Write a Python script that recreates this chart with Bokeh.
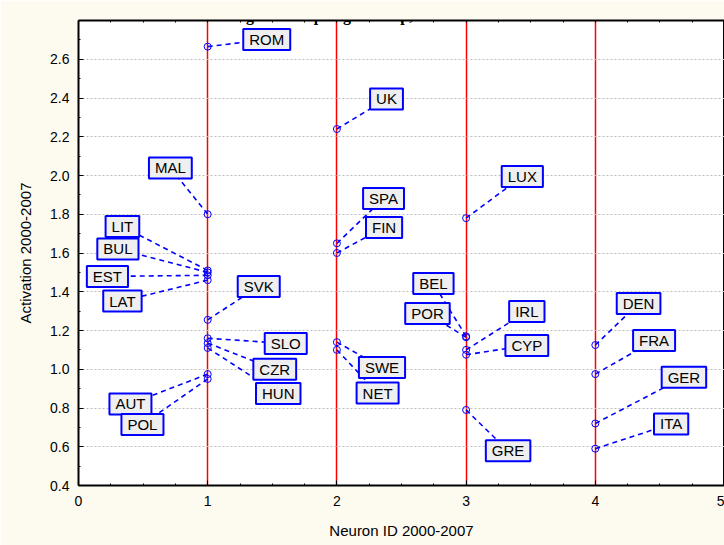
from bokeh.plotting import figure
from bokeh.models import (ColumnDataSource, LinearAxis, SingleIntervalTicker, FixedTicker,
                          Range1d, NumeralTickFormatter, Label)
from bokeh.embed import file_html
from bokeh.resources import INLINE
from bokeh.core.properties import value

# ---- data ----
countries = ["ROM", "MAL", "LIT", "BUL", "EST", "LAT", "SVK", "SLO", "CZR", "HUN", "AUT", "POL",
             "UK", "SPA", "FIN", "SWE", "NET",
             "LUX", "BEL", "POR", "IRL", "CYP", "GRE",
             "DEN", "FRA", "GER", "ITA"]
neuron = [1, 1, 1, 1, 1, 1, 1, 1, 1, 1, 1, 1,
          2, 2, 2, 2, 2,
          3, 3, 3, 3, 3, 3,
          4, 4, 4, 4]
activation = [2.665, 1.80, 1.51, 1.50, 1.485, 1.46, 1.255, 1.16, 1.135, 1.11, 0.975, 0.95,
              2.24, 1.65, 1.60, 1.14, 1.10,
              1.78, 1.17, 1.165, 1.10, 1.075, 0.79,
              1.125, 0.975, 0.72, 0.59]
# label anchor (box centre) in data coordinates
label_x = [1.457, 0.711, 0.340, 0.305, 0.224, 0.340, 1.395, 1.604, 1.519, 1.546, 0.402, 0.495,
           2.384, 2.361, 2.365, 2.349, 2.315,
           3.435, 2.747, 2.701, 3.470, 3.470, 3.325,
           4.335, 4.455, 4.686, 4.587]
label_y = [2.702, 2.039, 1.737, 1.621, 1.479, 1.352, 1.427, 1.133, 1.000, 0.875, 0.821, 0.715,
           2.395, 1.881, 1.732, 1.009, 0.877,
           1.995, 1.443, 1.288, 1.298, 1.123, 0.579,
           1.339, 1.148, 0.959, 0.718]
top_minor_ticks = [i * 0.25 for i in range(21)]

title_text = "Figure 4. Topological map, 2000-2007"
x_title = "Neuron ID 2000-2007"
y_title = "Activation 2000-2007"

CREAM = "#FDFAF0"
BLUE = "#0000FF"
FONT = "Liberation Sans"

p = figure(width=724, height=545, output_backend="svg", toolbar_location=None,
           x_range=Range1d(0, 5), y_range=Range1d(0.4, 2.8),
           x_axis_location=None, y_axis_location=None,
           min_border_left=78, min_border_right=0, min_border_top=20, min_border_bottom=60,
           background_fill_color="white", border_fill_color=CREAM,
           outline_line_color="black", outline_line_width=1)

xt = SingleIntervalTicker(interval=1, num_minor_ticks=4)
yt = SingleIntervalTicker(interval=0.2, num_minor_ticks=2)

bottom = LinearAxis(ticker=xt, axis_label=x_title)
left = LinearAxis(ticker=yt, axis_label=y_title, formatter=NumeralTickFormatter(format="0.0"))
top = LinearAxis(ticker=FixedTicker(ticks=[], minor_ticks=top_minor_ticks))

for ax in [bottom, left, top]:
    ax.axis_line_color = "black"
    ax.axis_line_width = 2
    ax.major_tick_in = 5
    ax.major_tick_out = 0
    ax.minor_tick_in = 2
    ax.minor_tick_out = 0
    ax.major_tick_line_color = "black"
    ax.minor_tick_line_color = "black"
    ax.major_label_text_font = FONT
    ax.major_label_text_color = "black"
    ax.axis_label_text_font = FONT
    ax.axis_label_text_font_style = "normal"
    ax.axis_label_text_color = "black"

for ax in [bottom, left]:
    ax.major_label_text_font_size = "14px"
    ax.axis_label_text_font_size = "15px"
bottom.major_label_standoff = 10
left.major_label_standoff = 9
bottom.axis_label_standoff = 13
left.axis_label_standoff = 13

p.add_layout(bottom, "below")
p.add_layout(left, "left")
p.add_layout(top, "above")

p.xgrid.ticker = xt
p.ygrid.ticker = yt
p.xgrid.grid_line_color = "red"
p.xgrid.grid_line_width = 1.5
p.ygrid.grid_line_color = "#BDBDBD"
p.ygrid.grid_line_dash = "2 2"
p.ygrid.grid_line_width = 1

src = ColumnDataSource(dict(country=countries, neuron=neuron, activation=activation,
                            lx=label_x, ly=label_y))

p.segment(x0="neuron", y0="activation", x1="lx", y1="ly", source=src,
          line_color=BLUE, line_width=1.6, line_dash="5 4")
p.scatter(x="neuron", y="activation", source=src, marker="circle", size=7,
          line_color=BLUE, fill_color=None, line_width=1)
p.text(x="lx", y="ly", text="country", source=src,
       text_font=value(FONT), text_font_size="15px", text_color="black",
       text_align="center", text_baseline="middle",
       background_fill_color="#EFEFEF", border_line_color=BLUE, border_line_width=2,
       padding=dict(x=6, y=2))

# caption above the chart, shrunk so that it fits in the band over the plot frame
p.add_layout(Label(x=2.173, y=2.8 + 5 / 193.75, text=title_text,
                   text_font="Liberation Serif", text_font_style="bold",
                   text_font_size="16px", text_color="black",
                   text_align="center", text_baseline="alphabetic"))

open("out.html", "w").write(file_html(p, INLINE))
